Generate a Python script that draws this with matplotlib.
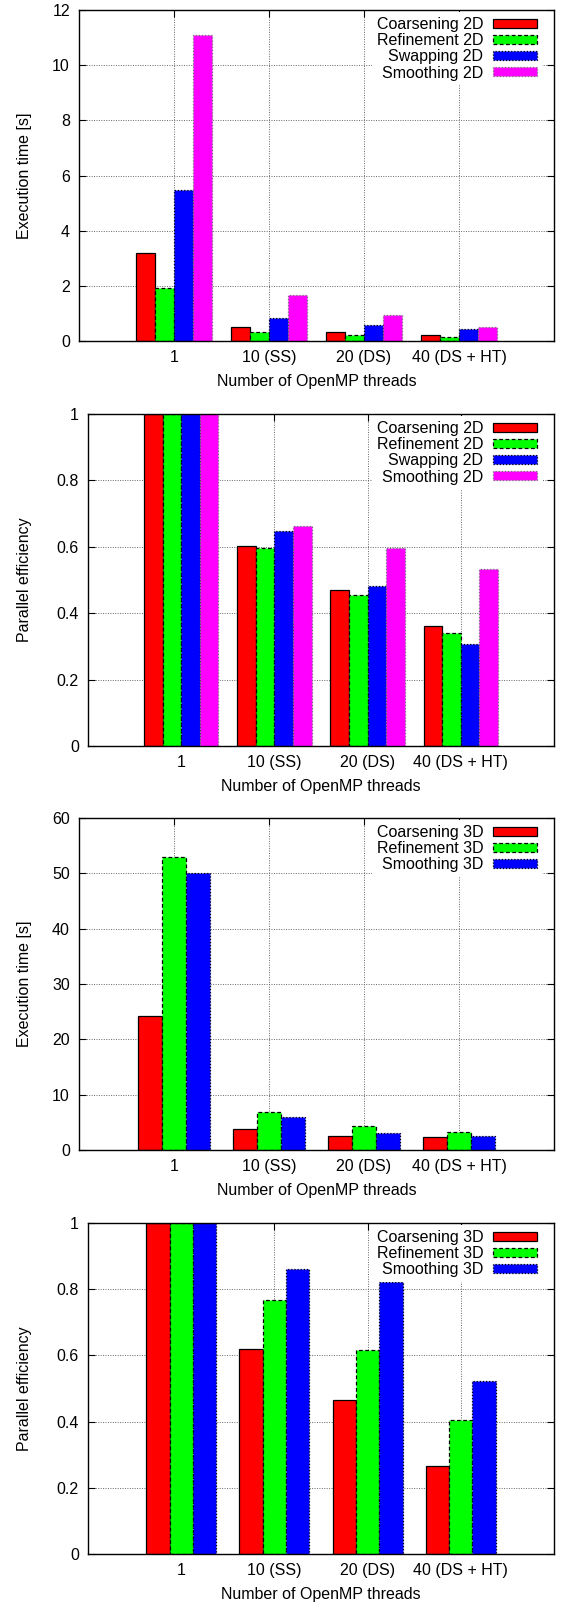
import numpy as np
from matplotlib import pyplot as plt
from matplotlib.patches import Patch

plt.rcParams['font.family'] = ['Liberation Sans', 'DejaVu Sans']
plt.rcParams['font.size'] = 11.5

threads = ['1', '10 (SS)', '20 (DS)', '40 (DS + HT)']

# 2D kernels
names_2d = ['Coarsening 2D', 'Refinement 2D', 'Swapping 2D', 'Smoothing 2D']
time_coarsen_2d = [3.18, 0.52, 0.34, 0.22]
time_refine_2d = [1.91, 0.31, 0.20, 0.13]
time_swap_2d = [5.49, 0.84, 0.57, 0.45]
time_smooth_2d = [11.09, 1.68, 0.94, 0.51]
eff_coarsen_2d = [1.0, 0.603, 0.470, 0.362]
eff_refine_2d = [1.0, 0.596, 0.454, 0.341]
eff_swap_2d = [1.0, 0.647, 0.483, 0.306]
eff_smooth_2d = [1.0, 0.662, 0.595, 0.532]

# 3D kernels
names_3d = ['Coarsening 3D', 'Refinement 3D', 'Smoothing 3D']
time_coarsen_3d = [24.3, 3.86, 2.60, 2.30]
time_refine_3d = [53.0, 6.94, 4.28, 3.26]
time_smooth_3d = [50.0, 5.91, 3.02, 2.47]
eff_coarsen_3d = [1.0, 0.618, 0.465, 0.265]
eff_refine_3d = [1.0, 0.766, 0.615, 0.406]
eff_smooth_3d = [1.0, 0.860, 0.821, 0.523]

colors = ['#ff0000', '#00ff00', '#0000ff', '#ff00ff']
edgestyles = ['-', (0, (3, 2)), (0, (1, 1.5)), (0, (1, 1.5))]
edgecols = ['black', 'black', 'black', '0.45']

W, H = 563, 1605
fig = plt.figure(figsize=(W/100, H/100), dpi=100)

def panel(left, top, bottom, series, names, ylabel, ylim, yticks):
    wpx = 554 - left
    hpx = bottom - top
    ax = fig.add_axes([left/W, 1-bottom/H, wpx/W, hpx/H])
    n = len(series)
    w = 1.0/(n+1)
    x = np.arange(len(threads))
    for i, vals in enumerate(series):
        off = (i - (n-1)/2.0)*w
        ax.bar(x+off, vals, w, color=colors[i], edgecolor=edgecols[i],
               linewidth=0.9, linestyle=edgestyles[i], zorder=3)
    ax.set_xlim(-1, 4)
    ax.set_ylim(*ylim)
    ax.set_xticks(x)
    ax.set_xticklabels(threads)
    ax.set_yticks(yticks)
    ax.yaxis.set_major_formatter(plt.FormatStrFormatter('%g'))
    ax.set_xlabel('Number of OpenMP threads', labelpad=6.5)
    ax.set_ylabel(ylabel)
    ax.yaxis.set_label_coords((32-left)/wpx, 0.5)
    ax.grid(True, color='0.4', linestyle=(0, (1, 1.5)), linewidth=0.7, zorder=0)
    ax.tick_params(direction='in', top=True, right=True, length=5, width=0.8, pad=6.5)
    for s in ax.spines.values():
        s.set_linewidth(1.0)
        s.set_zorder(5)
    handles = [Patch(facecolor=colors[i], edgecolor=edgecols[i], linestyle=edgestyles[i],
                     linewidth=0.9) for i in range(n)]
    leg = ax.legend(handles, names, loc='upper right', markerfirst=False,
                    bbox_to_anchor=((541.6-left)/wpx, 1.0 - 2.0/hpx), borderaxespad=0,
                    frameon=True, fancybox=False, handlelength=2.75, handleheight=0.48,
                    handletextpad=0.6, labelspacing=0.08, borderpad=0.3)
    leg.get_frame().set_edgecolor('none')
    leg.get_frame().set_facecolor('white')
    leg.get_frame().set_alpha(1)
    leg.set_zorder(4)
    return ax

panel(79, 10, 341,
      [time_coarsen_2d, time_refine_2d, time_swap_2d, time_smooth_2d], names_2d,
      'Execution time [s]', (0, 12), range(0, 13, 2))
panel(88, 414, 746,
      [eff_coarsen_2d, eff_refine_2d, eff_swap_2d, eff_smooth_2d], names_2d,
      'Parallel efficiency', (0, 1), np.arange(0, 1.01, 0.2))
panel(79, 818, 1150,
      [time_coarsen_3d, time_refine_3d, time_smooth_3d], names_3d,
      'Execution time [s]', (0, 60), range(0, 61, 10))
panel(88, 1223, 1554,
      [eff_coarsen_3d, eff_refine_3d, eff_smooth_3d], names_3d,
      'Parallel efficiency', (0, 1), np.arange(0, 1.01, 0.2))

fig.savefig('out.png', dpi=100)
